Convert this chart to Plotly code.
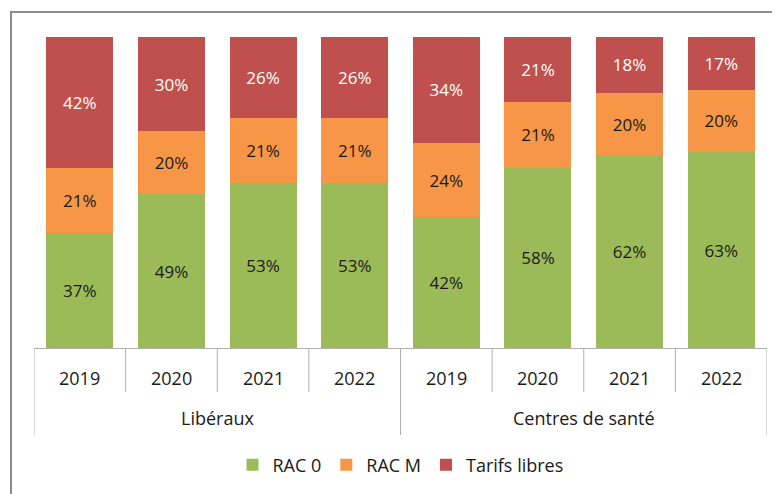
import plotly.graph_objects as go

groups = ["Libéraux"] * 4 + ["Centres de santé"] * 4
years = ["2019", "2020", "2021", "2022", "2019", "2020", "2021", "2022"]
rac0 = [37, 49, 53, 53, 42, 58, 62, 63]
racm = [21, 20, 21, 21, 24, 21, 20, 20]
libres = [42, 30, 26, 26, 34, 21, 18, 17]

series = [
    ("RAC 0", rac0, "#9BBB59", "#1a1a1a"),
    ("RAC M", racm, "#F79646", "#1a1a1a"),
    ("Tarifs libres", libres, "#C0504D", "#ffffff"),
]

font = "Open Sans"
pos = list(range(len(years)))

fig = go.Figure()
for name, vals, col, tcol in series:
    fig.add_trace(go.Bar(
        x=pos, y=vals, name=name,
        marker=dict(color=col, line=dict(width=0)),
        text=[f"{v}%" for v in vals], textposition="inside",
        insidetextanchor="middle", textangle=0,
        textfont=dict(color=tcol, size=17, family=font),
        hoverinfo="skip",
    ))

fig.update_layout(
    barmode="stack", barnorm="percent", bargap=0.27,
    width=780, height=494,
    margin=dict(l=26, r=21, t=29, b=154),
    plot_bgcolor="white", paper_bgcolor="white",
    font=dict(family=font, size=18, color="#1a1a1a"),
    uniformtext=dict(minsize=10, mode="show"),
    legend=dict(orientation="h", x=0.5, xanchor="center", y=-0.376, yanchor="middle",
                font=dict(size=18, family=font), traceorder="normal"),
    showlegend=True,
)
fig.update_xaxes(range=[-0.5, len(years) - 0.5], showticklabels=False, ticks="",
                 showgrid=False, zeroline=False, showline=True,
                 linecolor="#B0B0B0", linewidth=1, automargin=False)
fig.update_yaxes(range=[0, 100], visible=False, automargin=False)

line_col = "#B0B0B0"
for i, y in enumerate(years):
    fig.add_annotation(x=i, y=-0.0965, xref="x", yref="paper", text=y, showarrow=False,
                       font=dict(size=18, family=font, color="#1a1a1a"), yanchor="middle")
for i in range(1, len(years)):
    if groups[i] != groups[i - 1]:
        continue
    fig.add_shape(type="line", xref="x", yref="paper", x0=i - 0.5, x1=i - 0.5,
                  y0=0, y1=-0.1415, line=dict(color=line_col, width=1))
uniq = []
for g in groups:
    if g not in uniq:
        uniq.append(g)
bounds = [-0.5]
for g in uniq:
    idx = [i for i, gg in enumerate(groups) if gg == g]
    fig.add_annotation(x=(idx[0] + idx[-1]) / 2, y=-0.225, xref="x", yref="paper", text=g,
                       showarrow=False, font=dict(size=18, family=font, color="#1a1a1a"),
                       yanchor="middle")
    bounds.append(idx[-1] + 0.5)
for b in bounds:
    fig.add_shape(type="line", xref="x", yref="paper", x0=b, x1=b, y0=0, y1=-0.2797,
                  line=dict(color=line_col, width=1))

fig.add_shape(type="rect", xref="paper", yref="paper",
              x0=-0.0314, x1=1.1, y0=-0.6, y1=1.0804,
              line=dict(color="#8C8C8C", width=2), fillcolor="rgba(0,0,0,0)", layer="above")

fig.write_html("out.html")
